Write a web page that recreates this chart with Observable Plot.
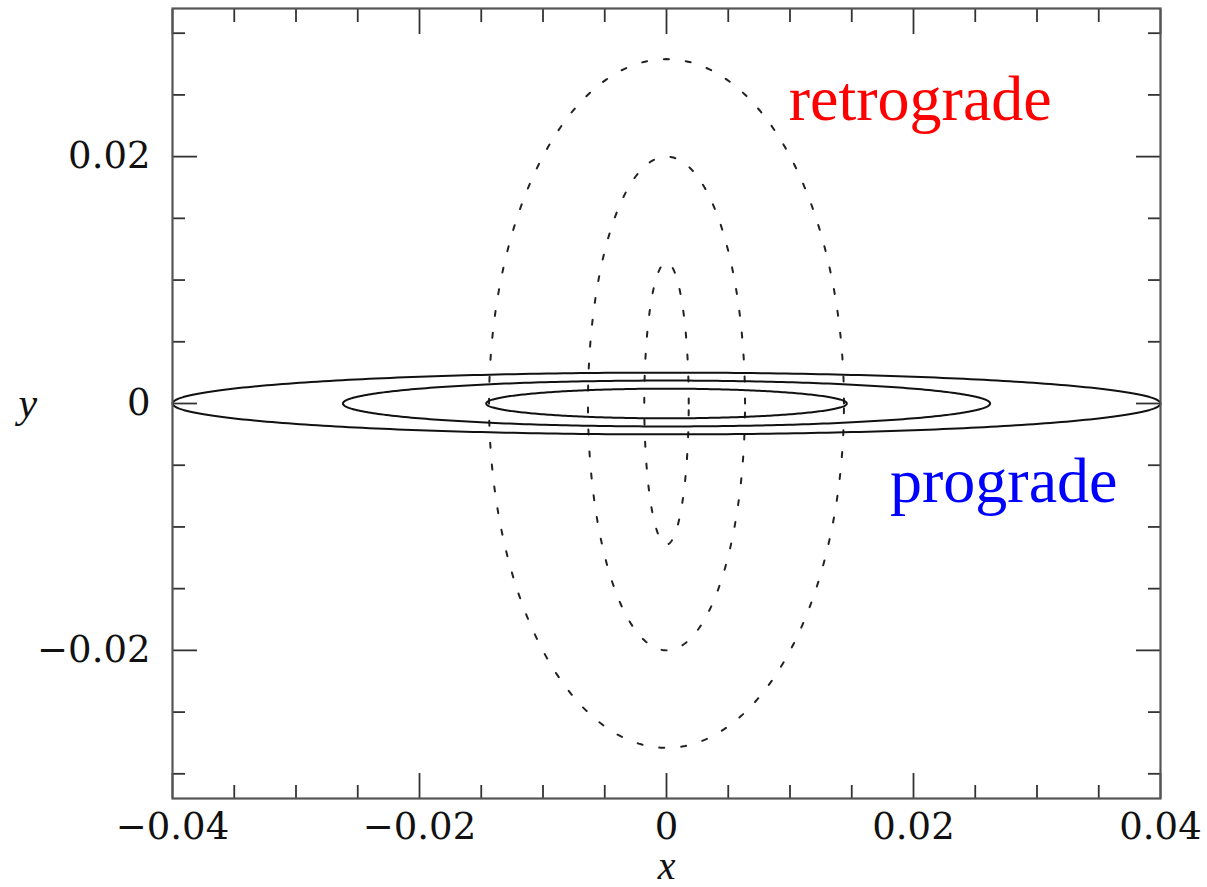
<!DOCTYPE html>
<html>
<head>
<meta charset="utf-8">
<script src="https://cdn.jsdelivr.net/npm/d3@7"></script>
<script src="https://cdn.jsdelivr.net/npm/@observablehq/plot@0.6"></script>
<style>
  html, body { margin: 0; padding: 0; background: #fff; }
  #chart svg { display: block; }
</style>
</head>
<body>
<div id="chart"></div>
<script>
// Orbit ellipses (semi-axes, data units)
const progradeNames = ["inner", "middle", "outer"];
const progradeSemiX = [0.0146, 0.0262, 0.0400];
const progradeSemiY = [0.0012, 0.00186, 0.0025];

const retrogradeNames = ["inner", "middle", "outer"];
const retrogradeSemiX = [0.0018, 0.00636, 0.01437];
const retrogradeSemiY = [0.01143, 0.0200, 0.0279];

// Axis ticks
const xMajor = [-0.04, -0.02, 0, 0.02, 0.04];
const xMajorLabels = ["\u22120.04", "\u22120.02", "0", "0.02", "0.04"];
const xMinor = [-0.035, -0.03, -0.025, -0.015, -0.01, -0.005, 0.005, 0.01, 0.015, 0.025, 0.03, 0.035];
const yMajor = [-0.02, 0, 0.02];
const yMajorLabels = ["\u22120.02", "0", "0.02"];
const yMinor = [-0.03, -0.025, -0.015, -0.01, -0.005, 0.005, 0.01, 0.015, 0.025, 0.03];

const labels = [
  {text: "retrograde", x: 0.0099, y: 0.0246, color: "#ff0000"},
  {text: "prograde", x: 0.0181, y: -0.0063, color: "#0000ff"}
];

// outline of an ellipse centred on the origin, from its two semi-axes
function outline(names, ax, by, kind) {
  const pts = [];
  const n = 360;
  names.forEach((name, i) => {
    for (let k = 0; k < n; k++) {
      const t = (2 * Math.PI * k) / n;
      pts.push({id: kind + "-" + name, x: ax[i] * Math.cos(t), y: by[i] * Math.sin(t)});
    }
  });
  return pts;
}
const prograde = outline(progradeNames, progradeSemiX, progradeSemiY, "pro");
const retrograde = outline(retrogradeNames, retrogradeSemiX, retrogradeSemiY, "retro");

const tickFont = "DejaVu Serif";
const tickColor = "#333";
const lbl = (vals, labs) => (d) => labs[vals.findIndex((v) => Math.abs(v - d) < 1e-9)] ?? "";
const none = () => "";

const chart = Plot.plot({
  width: 1207,
  height: 887,
  marginLeft: 172,
  marginRight: 47,
  marginTop: 8,
  marginBottom: 89,
  style: {background: "#fff", fontFamily: tickFont},
  x: {domain: [-0.04, 0.04]},
  y: {domain: [-0.032, 0.032]},
  marks: [
    // major ticks, inward on all sides
    Plot.axisX({anchor: "bottom", ticks: xMajor, tickSize: -25, tickFormat: none, label: null, stroke: tickColor, strokeWidth: 1.8}),
    Plot.axisX({anchor: "top", ticks: xMajor, tickSize: -25, tickFormat: none, label: null, stroke: tickColor, strokeWidth: 1.8}),
    Plot.axisX({anchor: "bottom", ticks: xMinor, tickSize: -13, tickFormat: none, label: null, stroke: tickColor, strokeWidth: 1.8}),
    Plot.axisX({anchor: "top", ticks: xMinor, tickSize: -13, tickFormat: none, label: null, stroke: tickColor, strokeWidth: 1.8}),
    Plot.axisY({anchor: "left", ticks: yMajor, tickSize: -25, tickFormat: none, label: null, stroke: tickColor, strokeWidth: 1.8}),
    Plot.axisY({anchor: "right", ticks: yMajor, tickSize: -25, tickFormat: none, label: null, stroke: tickColor, strokeWidth: 1.8}),
    Plot.axisY({anchor: "left", ticks: yMinor, tickSize: -13, tickFormat: none, label: null, stroke: tickColor, strokeWidth: 1.8}),
    Plot.axisY({anchor: "right", ticks: yMinor, tickSize: -13, tickFormat: none, label: null, stroke: tickColor, strokeWidth: 1.8}),
    // tick labels
    Plot.axisX({anchor: "bottom", ticks: xMajor, tickSize: 0, tickPadding: 14, tickFormat: lbl(xMajor, xMajorLabels), label: null, fontSize: 37, fill: "#111"}),
    Plot.axisY({anchor: "left", ticks: yMajor, tickSize: 0, tickPadding: 22, tickFormat: lbl(yMajor, yMajorLabels), label: null, fontSize: 37, fill: "#111"}),
    // axis titles
    Plot.text(["x"], {frameAnchor: "bottom", dy: 80, text: (d) => d, fontFamily: "Liberation Serif", fontStyle: "italic", fontSize: 40, fill: "#111"}),
    Plot.text(["y"], {frameAnchor: "left", dx: -154, text: (d) => d, fontFamily: "Liberation Serif", fontStyle: "italic", fontSize: 42, fill: "#111"}),
    // orbits
    Plot.line(retrograde, {x: "x", y: "y", z: "id", curve: "linear-closed", stroke: "#222", strokeWidth: 2, strokeDasharray: "5,17"}),
    Plot.line(prograde, {x: "x", y: "y", z: "id", curve: "linear-closed", stroke: "#111", strokeWidth: 2}),
    // annotations
    Plot.text(labels, {x: "x", y: "y", text: "text", fill: "color", textAnchor: "start", fontFamily: "Liberation Serif", fontSize: 64}),
    Plot.frame({stroke: "#555", strokeWidth: 2.2})
  ]
});
document.getElementById("chart").appendChild(chart);
</script>
</body>
</html>
